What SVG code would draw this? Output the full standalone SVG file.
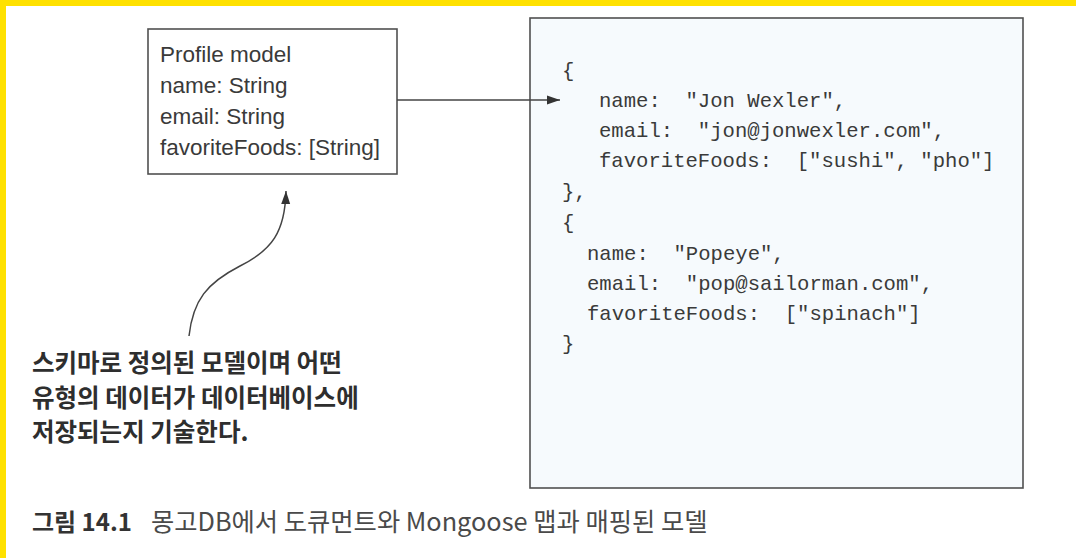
<svg xmlns="http://www.w3.org/2000/svg" width="1076" height="558" viewBox="0 0 1076 558">
<style>
.box{fill:#ffffff;stroke:#505050;stroke-width:1.6}
.doc{fill:#f6fafd;stroke:#505050;stroke-width:1.6}
.lbl{font-family:"Liberation Sans",Arial,sans-serif;font-size:22.5px;fill:#3a3a3a}
.code{font-family:"Liberation Mono","Courier New",monospace;font-size:20.6px;fill:#3a3a3a;white-space:pre}
.ann{font-family:"Noto Sans CJK KR",sans-serif;font-size:24.5px;font-weight:700;fill:#2e2e2e}
.capb{font-family:"Noto Sans CJK KR",sans-serif;font-size:24px;font-weight:700;fill:#333333}
.cap{font-family:"Noto Sans CJK KR",sans-serif;font-size:25.3px;font-weight:400;fill:#4a4a4a}
.conn{fill:none;stroke:#444444;stroke-width:1.5}
</style>
<defs>
<marker id="arr" markerUnits="userSpaceOnUse" markerWidth="14" markerHeight="10" refX="13" refY="5" orient="auto">
<path d="M0,0.5 L13,5 L0,9.5 z" fill="#333333"/>
</marker>
</defs>
<rect x="0" y="0" width="1076" height="558" fill="#ffffff"/>
<rect x="0" y="0" width="1076" height="6" fill="#ffe100"/>
<rect x="0" y="0" width="6" height="558" fill="#ffe100"/>

<g id="profile-model">
<rect class="box" x="148" y="29" width="249" height="145"/>
<text class="lbl" x="160" y="62">Profile model</text>
<text class="lbl" x="160" y="93">name: String</text>
<text class="lbl" x="160" y="124">email: String</text>
<text class="lbl" x="160" y="155">favoriteFoods: [String]</text>
</g>

<g id="documents">
<rect class="doc" x="530" y="18" width="493" height="470"/>
<text class="code" xml:space="preserve" x="562" y="77">{</text>
<text class="code" xml:space="preserve" x="599" y="107">name:  "Jon Wexler",</text>
<text class="code" xml:space="preserve" x="599" y="137">email:  "jon@jonwexler.com",</text>
<text class="code" xml:space="preserve" x="599" y="167">favoriteFoods:  ["sushi", "pho"]</text>
<text class="code" xml:space="preserve" x="562" y="198">},</text>
<text class="code" xml:space="preserve" x="562" y="229">{</text>
<text class="code" xml:space="preserve" x="587" y="260">name:  "Popeye",</text>
<text class="code" xml:space="preserve" x="587" y="290">email:  "pop@sailorman.com",</text>
<text class="code" xml:space="preserve" x="587" y="320">favoriteFoods:  ["spinach"]</text>
<text class="code" xml:space="preserve" x="562" y="350">}</text>
</g>

<g id="annotation">
<text class="ann" x="32" y="372">스키마로 정의된 모델이며 어떤</text>
<text class="ann" x="32" y="407">유형의 데이터가 데이터베이스에</text>
<text class="ann" x="32" y="441">저장되는지 기술한다.</text>
</g>

<g id="connectors">
<path class="conn" d="M397,100 L560,100" marker-end="url(#arr)"/>
<path class="conn" d="M189,336 C193,300 207,283 240,266 C272,250 285,232 286,191" marker-end="url(#arr)"/>
</g>

<g id="caption">
<text class="capb" x="32" y="531">그림 14.1</text>
<text class="cap" x="151" y="531">몽고DB에서 도큐먼트와 Mongoose 맵과 매핑된 모델</text>
</g>
</svg>
